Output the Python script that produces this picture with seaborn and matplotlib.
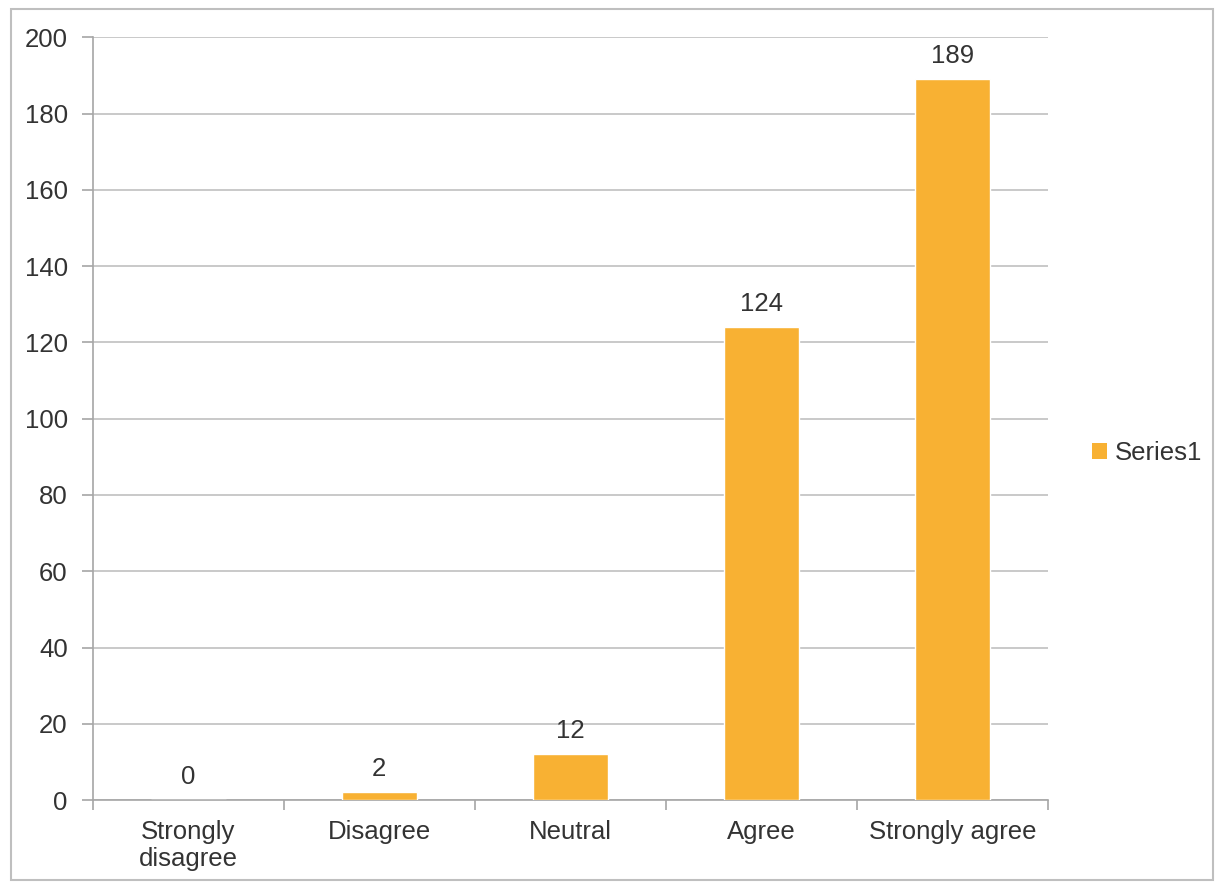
import matplotlib
matplotlib.use("Agg")
import matplotlib.pyplot as plt
import seaborn as sns
import pandas as pd
from matplotlib.patches import Rectangle, Patch

# chart data
categories = ["Strongly\ndisagree", "Disagree", "Neutral", "Agree", "Strongly agree"]
counts = [0, 2, 12, 124, 189]
series_name = "Series1"
y_ticks = [0, 20, 40, 60, 80, 100, 120, 140, 160, 180, 200]

bar_color = "#F8B133"
grid_color = "#C0C0C0"
axis_color = "#A6A6A6"
text_color = "#333333"

sns.set_style("white")
plt.rcParams['font.family'] = ['Liberation Sans', 'DejaVu Sans']

df = pd.DataFrame({"category": categories, "count": counts})

fig = plt.figure(figsize=(12.2, 8.89), dpi=100)
ax = fig.add_axes([0.076, 0.100, 0.783, 0.858])

sns.barplot(data=df, x="category", y="count", color=bar_color,
            width=0.39, saturation=1, ax=ax, zorder=3)

ax.set_ylim(0, 200)
ax.set_yticks(y_ticks)
ax.set_xlim(-0.5, len(categories) - 0.5)
ax.yaxis.grid(True, color=grid_color, linewidth=1.2, zorder=0)
ax.set_axisbelow(True)
ax.set_xlabel("")
ax.set_ylabel("")

for s in ["top", "right"]:
    ax.spines[s].set_visible(False)
for s in ["left", "bottom"]:
    ax.spines[s].set_color(axis_color)
    ax.spines[s].set_linewidth(1.2)

ax.tick_params(axis="y", left=True, labelsize=18.5, colors=text_color, length=8,
               width=1.2, color=axis_color, direction="out", pad=10)
ax.tick_params(axis="x", which="major", labelsize=18.5, colors=text_color,
               length=0, pad=14)

# category boundary tick marks on x axis
ax.set_xticks([i - 0.5 for i in range(len(categories) + 1)], minor=True)
ax.tick_params(axis="x", which="minor", bottom=True, length=7, width=1.2,
               color=axis_color, direction="out")

# value labels
for i, v in enumerate(counts):
    ax.text(i, v + 3, str(v), ha="center", va="bottom", fontsize=18.5, color=text_color)

# legend
handle = Patch(facecolor=bar_color, edgecolor="none", label=series_name)
fig.legend(handles=[handle], loc="center left", bbox_to_anchor=(0.876, 0.49),
           frameon=False, fontsize=18.5, handlelength=0.6, handleheight=0.6,
           handletextpad=0.3, labelcolor=text_color)

# outer chart border
fig.patches.append(Rectangle((0.009, 0.01), 0.985, 0.98, transform=fig.transFigure,
                             fill=False, edgecolor="#BFBFBF", linewidth=1.5))

fig.savefig("out.png", dpi=100)
